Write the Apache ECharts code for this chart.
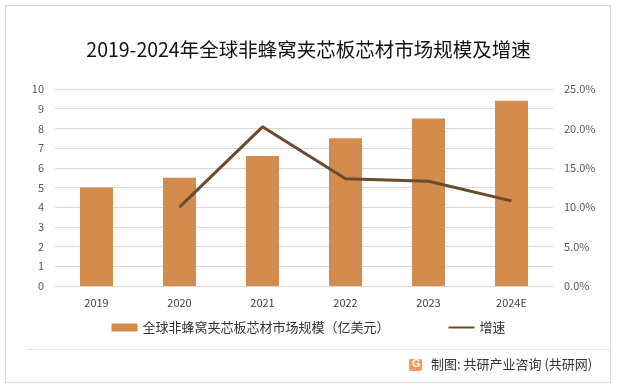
<!DOCTYPE html>
<html><head><meta charset="utf-8">
<script src="https://cdn.jsdelivr.net/npm/echarts@6/dist/echarts.min.js"></script>
<style>html,body{margin:0;padding:0;background:#fff}#c{width:617px;height:391px}</style>
</head><body><div id="c"></div>
<script>
const categories = ['2019','2020','2021','2022','2023','2024E'];
const marketSize = [5.0, 5.5, 6.6, 7.5, 8.5, 9.4];
const growth = [null, 10.0, 20.2, 13.6, 13.3, 10.8];
const rightTicks = ['0.0%','5.0%','10.0%','15.0%','20.0%','25.0%'];
const seriesNames = ['全球非蜂窝夹芯板芯材市场规模（亿美元）','增速'];
const titleText = '2019-2024年全球非蜂窝夹芯板芯材市场规模及增速';
const sourceText = '制图: 共研产业咨询 (共研网)';

const chart = echarts.init(document.getElementById('c'), null, {renderer:'canvas'});
const font = '"Microsoft YaHei","Noto Sans CJK SC",sans-serif';
chart.setOption({
  animation:false,
  backgroundColor:'#fff',
  title:{text:titleText,left:'center',top:35,textStyle:{fontSize:19.5,fontWeight:'normal',color:'#111',fontFamily:font}},
  grid:{left:55,right:64,top:89,bottom:105},
  legend:{bottom:52,left:'center',itemGap:58,itemWidth:26,itemHeight:8,
    textStyle:{fontSize:13,color:'#333',fontFamily:font},
    data:[{name:seriesNames[0],icon:'rect'},{name:seriesNames[1],itemStyle:{opacity:0}}]},
  xAxis:{type:'category',data:categories,
    axisLine:{show:true,lineStyle:{color:'#d9d9d9'}},axisTick:{show:false},
    axisLabel:{color:'#404040',fontSize:11,margin:11,fontFamily:font}},
  yAxis:[
    {type:'value',min:0,max:10,interval:1,
     axisLabel:{color:'#595959',fontSize:11,margin:11,fontFamily:font},
     splitLine:{lineStyle:{color:'#d9d9d9'}},axisLine:{show:false},axisTick:{show:false}},
    {type:'value',min:0,max:25,interval:5,
     axisLabel:{color:'#595959',fontSize:11,margin:11,fontFamily:font,formatter:v=>rightTicks[Math.round(v/5)]},
     splitLine:{show:false},axisLine:{show:false},axisTick:{show:false}}
  ],
  series:[
    {name:seriesNames[0],type:'bar',data:marketSize,barWidth:33,itemStyle:{color:'#D38B4E'}},
    {name:seriesNames[1],type:'line',yAxisIndex:1,data:growth,symbol:'none',
     lineStyle:{color:'#6B4A2E',width:3},itemStyle:{color:'#6B4A2E'}}
  ],
  graphic:[
    {type:'rect',shape:{x:5.5,y:5.5,width:605,height:377},style:{fill:null,stroke:'#d9d9d9',lineWidth:1},silent:true},
    {type:'line',shape:{x1:27,y1:349.5,x2:610,y2:349.5},style:{stroke:'#e3e3e3',lineWidth:1}},
    {type:'rect',shape:{x:409,y:359,width:13,height:12,r:2},style:{fill:'#F39A5A'}},
    {type:'text',left:412,top:358,style:{text:'G',fill:'#fff',font:'bold 11px sans-serif'}},
    {type:'text',left:431,top:358,style:{text:sourceText,fill:'#333',font:'13px '+font}}
  ]
});
</script></body></html>
